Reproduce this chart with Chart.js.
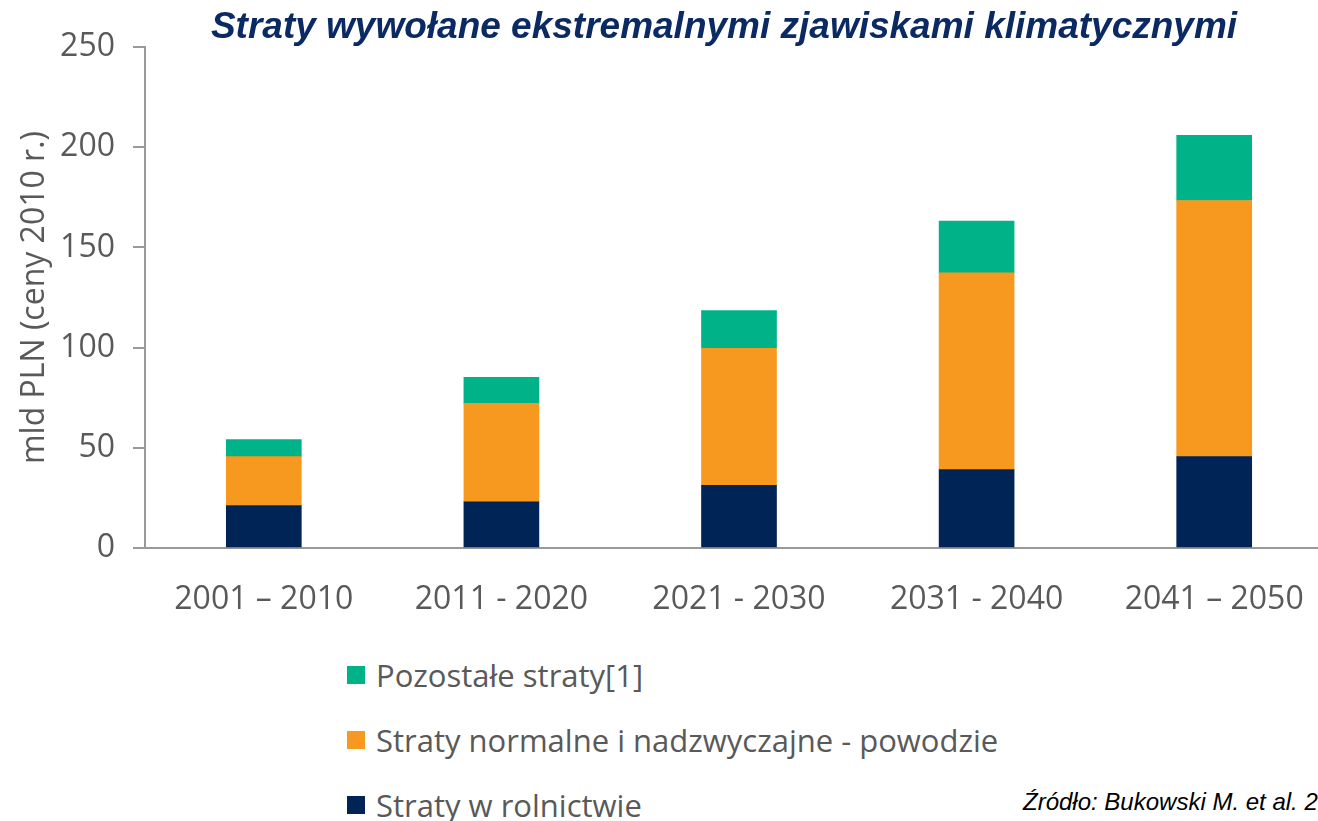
<!DOCTYPE html>
<html>
<head>
<meta charset="utf-8">
<script src="https://cdn.jsdelivr.net/npm/chart.js@4.4.1/dist/chart.umd.min.js"></script>
<style>
  html, body { margin: 0; padding: 0; background: #fff; overflow: hidden; }
  body { width: 1318px; height: 821px; position: relative; }
  #wrap { position: absolute; left: 0; top: 0; width: 1340px; height: 640px; }
  #legend { position: absolute; left: 347px; top: 642px; font-family: "Open Sans", sans-serif; font-size: 31px; color: #595959; }
  #legend .item { display: flex; align-items: center; height: 65px; }
  #legend .box { width: 18px; height: 18px; margin-right: 11px; }
  #source { position: absolute; left: 1023px; top: 788px; white-space: nowrap;
    font-family: "Liberation Sans", Arial, sans-serif; font-style: italic; font-size: 24px; color: #000; }
</style>
</head>
<body>
<div id="wrap"><canvas id="chart"></canvas></div>
<div id="legend"></div>
<div id="source">Źródło: Bukowski M. et al. 2</div>
<script>
  // Categories (decades)
  const categories = ['2001 – 2010', '2011 - 2020', '2021 - 2030', '2031 - 2040', '2041 – 2050'];

  // Series values, mld PLN (stacked bottom to top)
  const rolnictwo = [21.2, 23.0, 31.3, 39.1, 45.6];
  const powodzie = [24.4, 49.2, 68.3, 98.2, 127.8];
  const pozostale = [8.5, 13.0, 18.9, 25.8, 32.5];

  const seriesNames = ['Straty w rolnictwie', 'Straty normalne i nadzwyczajne - powodzie', 'Pozostałe straty[1]'];
  const seriesColors = ['#012456', '#F8991F', '#00B287'];

  // Y axis ticks
  const yTicks = [0, 50, 100, 150, 200, 250];

  const axisGray = '#999999';
  const labelGray = '#595959';

  // nudge the title a bit to the left, like in the original
  const titleShift = {
    id: 'titleShift',
    afterLayout(chart) {
      if (chart.titleBlock) {
        chart.titleBlock.left -= 15;
        chart.titleBlock.right -= 15;
      }
    }
  };

  const ctx = document.getElementById('chart').getContext('2d');
  const chart = new Chart(ctx, {
    type: 'bar',
    data: {
      labels: categories,
      datasets: [rolnictwo, powodzie, pozostale].map((values, i) => ({
        label: seriesNames[i],
        data: values,
        backgroundColor: seriesColors[i],
        borderWidth: 0,
        barThickness: 75
      }))
    },
    plugins: [titleShift],
    options: {
      responsive: true,
      maintainAspectRatio: false,
      animation: false,
      layout: { padding: { left: 0, right: 7, top: 0, bottom: 21 } },
      plugins: {
        legend: { display: false },
        tooltip: { enabled: false },
        title: {
          display: true,
          fullSize: false,
          text: 'Straty wywołane ekstremalnymi zjawiskami klimatycznymi',
          color: '#0B2A63',
          font: { family: 'Liberation Sans', size: 37, style: 'italic', weight: 'bold', lineHeight: 1.2 },
          padding: { top: 6, bottom: -3.4 }
        }
      },
      scales: {
        x: {
          stacked: true,
          grid: { display: false, drawTicks: false },
          border: { display: true, color: axisGray, width: 2 },
          ticks: {
            color: labelGray,
            padding: 33,
            maxRotation: 0,
            font: { family: 'Open Sans', size: 32, lineHeight: 1.2 }
          },
          afterFit: scale => { scale.height = 71; }
        },
        y: {
          stacked: true,
          min: 0,
          max: 250,
          afterBuildTicks: scale => { scale.ticks = yTicks.map(v => ({ value: v })); },
          grid: { drawOnChartArea: false, drawTicks: true, tickLength: 12, color: axisGray, lineWidth: 2 },
          border: { display: true, color: axisGray, width: 2 },
          ticks: {
            color: labelGray,
            padding: 18,
            font: { family: 'Open Sans', size: 32, lineHeight: 1.2 }
          },
          title: {
            display: true,
            text: 'mld PLN (ceny 2010 r.)',
            color: labelGray,
            font: { family: 'Open Sans', size: 32, lineHeight: 1.2 },
            padding: { top: 16, bottom: 0 }
          },
          afterFit: scale => { scale.width = 145; }
        }
      }
    }
  });

  // Legend, vertical, top series first
  const legendEl = document.getElementById('legend');
  chart.data.datasets.slice().reverse().forEach(ds => {
    const item = document.createElement('div');
    item.className = 'item';
    const box = document.createElement('span');
    box.className = 'box';
    box.style.background = ds.backgroundColor;
    const txt = document.createElement('span');
    txt.textContent = ds.label;
    item.appendChild(box);
    item.appendChild(txt);
    legendEl.appendChild(item);
  });
</script>
</body>
</html>
